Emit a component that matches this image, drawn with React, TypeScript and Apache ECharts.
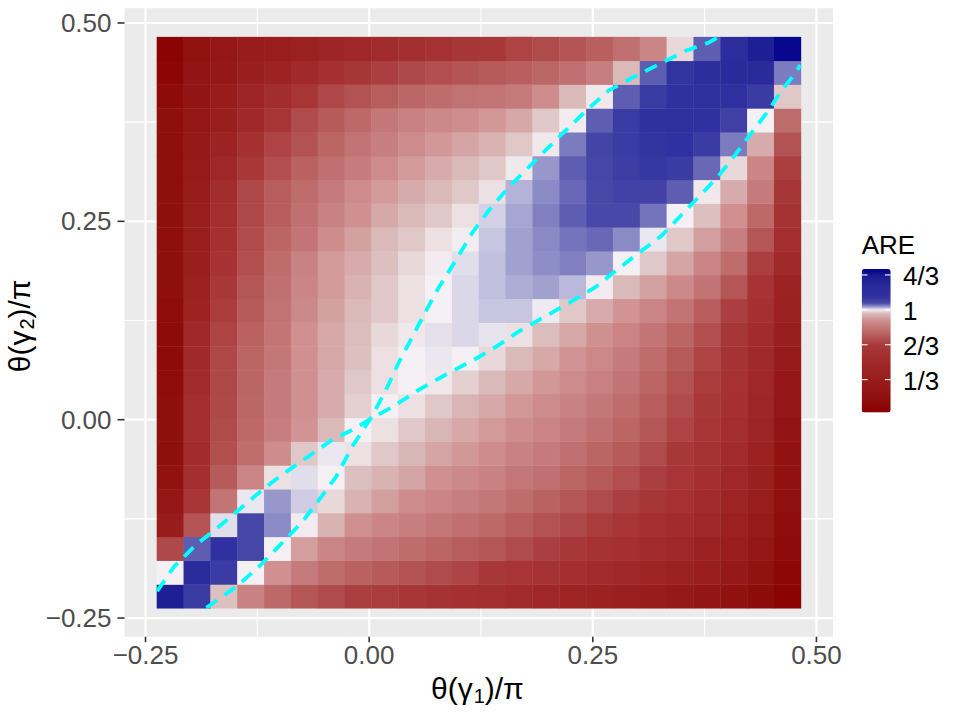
import React, { useEffect, useRef } from 'react';
import * as echarts from 'echarts';

// cell centres of theta(gamma)/pi on both axes
const thetaX = [-0.2225, -0.1925, -0.1625, -0.1325, -0.1025, -0.0725, -0.0425, -0.0125, 0.0175, 0.0475, 0.0775, 0.1075,
  0.1375, 0.1675, 0.1975, 0.2275, 0.2575, 0.2875, 0.3175, 0.3475, 0.3775, 0.4075, 0.4375, 0.4675];
const thetaY = [-0.2225, -0.1925, -0.1625, -0.1325, -0.1025, -0.0725, -0.0425, -0.0125, 0.0175, 0.0475, 0.0775, 0.1075,
  0.1375, 0.1675, 0.1975, 0.2275, 0.2575, 0.2875, 0.3175, 0.3475, 0.3775, 0.4075, 0.4375, 0.4675];

// ARE values, one row per thetaY (bottom to top), columns follow thetaX
const r00 = [1.3, 1.1, 0.97, 0.86, 0.79, 0.74, 0.71, 0.68, 0.67, 0.64, 0.61, 0.58, 0.55, 0.52, 0.48, 0.44, 0.4, 0.36, 0.32, 0.28, 0.23, 0.18, 0.12, 0.05];
const r01 = [1.0, 1.2, 1.1, 1.0, 0.9, 0.84, 0.8, 0.77, 0.75, 0.73, 0.71, 0.69, 0.66, 0.63, 0.6, 0.56, 0.52, 0.48, 0.44, 0.39, 0.34, 0.28, 0.2, 0.09];
const r02 = [0.705, 1.055, 1.13, 1.07, 1.0, 0.92, 0.87, 0.84, 0.82, 0.8, 0.78, 0.76, 0.74, 0.71, 0.68, 0.65, 0.61, 0.57, 0.52, 0.47, 0.41, 0.34, 0.25, 0.12];
const r03 = [0.32, 0.735, 1.006, 1.07, 1.035, 0.997, 0.95, 0.9, 0.87, 0.85, 0.83, 0.81, 0.79, 0.76, 0.73, 0.7, 0.67, 0.63, 0.58, 0.53, 0.47, 0.39, 0.29, 0.14];
const r04 = [0.24, 0.63, 0.825, 1.003, 1.03, 1.012, 0.985, 0.95, 0.92, 0.89, 0.87, 0.85, 0.83, 0.8, 0.77, 0.74, 0.71, 0.68, 0.64, 0.59, 0.52, 0.44, 0.33, 0.16];
const r05 = [0.2, 0.55, 0.75, 0.87, 0.99, 1.006, 1.0, 0.97, 0.95, 0.93, 0.9, 0.88, 0.86, 0.83, 0.81, 0.78, 0.75, 0.72, 0.68, 0.63, 0.56, 0.48, 0.37, 0.18];
const r06 = [0.15, 0.53, 0.72, 0.805, 0.89, 0.975, 1.003, 0.99, 0.975, 0.955, 0.93, 0.91, 0.89, 0.86, 0.84, 0.81, 0.78, 0.75, 0.71, 0.66, 0.6, 0.52, 0.4, 0.2];
const r07 = [0.15, 0.55, 0.71, 0.79, 0.85, 0.905, 0.96, 1.0, 0.99, 0.975, 0.955, 0.935, 0.915, 0.89, 0.865, 0.84, 0.81, 0.78, 0.74, 0.69, 0.63, 0.55, 0.43, 0.22];
const r08 = [0.15, 0.55, 0.705, 0.785, 0.84, 0.9, 0.94, 0.98, 1.0, 0.99, 0.975, 0.955, 0.935, 0.91, 0.885, 0.86, 0.83, 0.8, 0.76, 0.71, 0.65, 0.57, 0.46, 0.24];
const r09 = [0.135, 0.52, 0.7, 0.78, 0.84, 0.9, 0.94, 0.975, 0.99, 1.0, 0.995, 0.98, 0.96, 0.935, 0.91, 0.885, 0.855, 0.82, 0.78, 0.73, 0.67, 0.59, 0.48, 0.26];
const r10 = [0.12, 0.5, 0.7, 0.78, 0.83, 0.9, 0.935, 0.97, 0.99, 1.0, 1.003, 1.0, 0.985, 0.96, 0.935, 0.905, 0.875, 0.84, 0.8, 0.75, 0.69, 0.61, 0.5, 0.3];
const r11 = [0.12, 0.47, 0.69, 0.77, 0.825, 0.9, 0.935, 0.965, 0.985, 0.995, 1.005, 1.008, 1.004, 0.99, 0.965, 0.935, 0.9, 0.865, 0.825, 0.78, 0.72, 0.64, 0.53, 0.35];
const r12 = [0.135, 0.42, 0.67, 0.75, 0.815, 0.88, 0.925, 0.96, 0.975, 0.99, 1.0, 1.008, 1.014, 1.014, 1.002, 0.975, 0.94, 0.905, 0.865, 0.82, 0.76, 0.68, 0.57, 0.38];
const r13 = [0.15, 0.38, 0.65, 0.74, 0.81, 0.87, 0.915, 0.95, 0.975, 0.99, 1.0, 1.008, 1.016, 1.022, 1.026, 1.018, 0.997, 0.96, 0.925, 0.88, 0.82, 0.74, 0.62, 0.42];
const r14 = [0.15, 0.35, 0.61, 0.72, 0.8, 0.86, 0.915, 0.94, 0.97, 0.985, 0.997, 1.006, 1.016, 1.026, 1.034, 1.04, 1.03, 1.0, 0.975, 0.93, 0.87, 0.8, 0.68, 0.5];
const r15 = [0.15, 0.34, 0.58, 0.71, 0.78, 0.825, 0.89, 0.925, 0.96, 0.975, 0.99, 0.998, 1.014, 1.026, 1.036, 1.045, 1.05, 1.035, 1.003, 0.975, 0.92, 0.85, 0.74, 0.55];
const r16 = [0.15, 0.33, 0.55, 0.7, 0.76, 0.81, 0.86, 0.9, 0.935, 0.96, 0.975, 0.99, 1.01, 1.024, 1.04, 1.055, 1.065, 1.065, 1.045, 1.0, 0.97, 0.9, 0.79, 0.6];
const r17 = [0.15, 0.32, 0.54, 0.7, 0.76, 0.8, 0.84, 0.885, 0.915, 0.94, 0.96, 0.975, 0.99, 1.02, 1.035, 1.05, 1.065, 1.08, 1.08, 1.055, 0.995, 0.94, 0.84, 0.64];
const r18 = [0.15, 0.3, 0.47, 0.65, 0.72, 0.77, 0.81, 0.845, 0.885, 0.915, 0.94, 0.96, 0.975, 0.995, 1.03, 1.055, 1.07, 1.095, 1.11, 1.1, 1.05, 0.985, 0.87, 0.68];
const r19 = [0.15, 0.28, 0.42, 0.57, 0.69, 0.73, 0.78, 0.82, 0.85, 0.885, 0.91, 0.93, 0.95, 0.975, 0.995, 1.042, 1.075, 1.1, 1.12, 1.13, 1.1, 1.042, 0.94, 0.73];
const r20 = [0.15, 0.25, 0.35, 0.49, 0.63, 0.71, 0.75, 0.79, 0.83, 0.855, 0.88, 0.895, 0.91, 0.935, 0.975, 0.997, 1.055, 1.1, 1.13, 1.14, 1.14, 1.09, 1.0, 0.8];
const r21 = [0.12, 0.225, 0.32, 0.43, 0.54, 0.63, 0.7, 0.73, 0.76, 0.785, 0.8, 0.815, 0.825, 0.84, 0.89, 0.96, 0.995, 1.055, 1.1, 1.13, 1.14, 1.15, 1.1, 0.975];
const r22 = [0.07, 0.22, 0.27, 0.35, 0.42, 0.5, 0.58, 0.64, 0.68, 0.7, 0.72, 0.735, 0.75, 0.765, 0.785, 0.81, 0.85, 0.96, 1.055, 1.12, 1.17, 1.22, 1.22, 1.042];
const r23 = [0.045, 0.2, 0.24, 0.32, 0.34, 0.38, 0.43, 0.47, 0.52, 0.55, 0.6, 0.64, 0.66, 0.69, 0.71, 0.735, 0.765, 0.81, 0.87, 0.985, 1.055, 1.19, 1.3, 1.37];
const areRows = [r00, r01, r02, r03, r04, r05, r06, r07, r08, r09, r10, r11, r12, r13, r14, r15, r16, r17, r18, r19, r20, r21, r22, r23];

// ARE = 1 contour, two branches crossing at the origin
const contourA = [[-0.237, -0.216], [-0.218, -0.185], [-0.193, -0.157], [-0.167, -0.134], [-0.145, -0.113], [-0.121, -0.09],
  [-0.097, -0.069], [-0.07, -0.048], [-0.041, -0.025], [-0.019, -0.013], [0, 0], [0.026, 0.016], [0.056, 0.038], [0.086, 0.057],
  [0.121, 0.078], [0.142, 0.092], [0.167, 0.111], [0.195, 0.129], [0.223, 0.147], [0.253, 0.167], [0.276, 0.188], [0.301, 0.21],
  [0.327, 0.232], [0.349, 0.258], [0.372, 0.285], [0.391, 0.308], [0.41, 0.335], [0.427, 0.361], [0.446, 0.389], [0.461, 0.415],
  [0.474, 0.433], [0.482, 0.447]];
const contourB = [[-0.182, -0.237], [-0.148, -0.21], [-0.123, -0.185], [-0.097, -0.155], [-0.075, -0.129], [-0.056, -0.101],
  [-0.037, -0.072], [-0.019, -0.034], [0.003, 0.004], [0.019, 0.038], [0.033, 0.072], [0.048, 0.104], [0.064, 0.138],
  [0.078, 0.167], [0.097, 0.201], [0.115, 0.235], [0.134, 0.264], [0.156, 0.293], [0.186, 0.327], [0.212, 0.356],
  [0.242, 0.389], [0.268, 0.415], [0.294, 0.431], [0.324, 0.448], [0.354, 0.465], [0.379, 0.475], [0.39, 0.482]];

const axisBreaks = [-0.25, 0, 0.25, 0.5];
const axisLabels = ['\u22120.25', '0.00', '0.25', '0.50'];
const minorBreaks = [-0.125, 0.125, 0.375];
const legendBreaks = [1 / 3, 2 / 3, 1, 4 / 3];
const legendLabels = ['1/3', '2/3', '1', '4/3'];

const AXIS_MIN = -0.2735;
const AXIS_MAX = 0.5185;
const LEG_MIN = 0.02;
const LEG_MAX = 1.39;
const LEG_LEFT = 861.7;
const LEG_TOP = 269;
const LEG_W = 29;
const LEG_H = 143.4;
const FONT = '"Liberation Sans", Arial, Helvetica, sans-serif';

// colour ramp anchors (value -> colour), as seen on the legend bar
const rampAnchors: [number, string][] = [
  [0.02, '#8b0000'], [0.17, '#901010'], [0.32, '#981c1c'], [0.49, '#a02828'], [0.66, '#a83838'],
  [0.81, '#c07070'], [0.9, '#d09090'], [0.97, '#dcc0c0'], [1.0, '#f4f0f4'], [1.026, '#a0a0d0'],
  [1.064, '#4848a8'], [1.13, '#3030a0'], [1.22, '#2a2a9a'], [1.32, '#1c1c94'], [1.39, '#00008b'],
];

function hexRgb(h: string) {
  const n = parseInt(h.slice(1), 16);
  return [(n >> 16) & 255, (n >> 8) & 255, n & 255];
}

function buildRamp(n: number) {
  const out: string[] = [];
  for (let k = 0; k < n; k++) {
    const v = LEG_MIN + ((LEG_MAX - LEG_MIN) * k) / (n - 1);
    let s = 0;
    while (s < rampAnchors.length - 2 && v > rampAnchors[s + 1][0]) s++;
    const [v0, c0] = rampAnchors[s];
    const [v1, c1] = rampAnchors[s + 1];
    const t = Math.max(0, Math.min(1, (v - v0) / (v1 - v0)));
    const a = hexRgb(c0);
    const b = hexRgb(c1);
    const c = a.map((x, i) => Math.round(x + (b[i] - x) * t));
    out.push(`rgb(${c[0]},${c[1]},${c[2]})`);
  }
  return out;
}

function titleGroup(x: number, y: number, rotation: number, sub: string) {
  return {
    type: 'group',
    x,
    y,
    rotation,
    children: [
      { type: 'text', x: -6, y: 0, style: { text: '\u03b8(\u03b3', fill: '#000', fontSize: 30, fontFamily: FONT, align: 'right', verticalAlign: 'middle', textAlign: 'right', textVerticalAlign: 'middle' } },
      { type: 'text', x: -5, y: 8, style: { text: sub, fill: '#000', fontSize: 20, fontFamily: FONT, align: 'left', verticalAlign: 'middle', textAlign: 'left', textVerticalAlign: 'middle' } },
      { type: 'text', x: 6, y: 0, style: { text: ')/\u03c0', fill: '#000', fontSize: 30, fontFamily: FONT, align: 'left', verticalAlign: 'middle', textAlign: 'left', textVerticalAlign: 'middle' } },
    ],
  };
}

export default function App() {
  const ref = useRef<HTMLDivElement>(null);

  useEffect(() => {
    if (!ref.current) return;
    const chart = echarts.init(ref.current, undefined, { renderer: 'svg' });

    const cells: number[][] = [];
    areRows.forEach((row, j) => {
      row.forEach((v, i) => cells.push([thetaX[i], thetaY[j], v]));
    });
    const hw = (thetaX[1] - thetaX[0]) / 2;
    const hh = (thetaY[1] - thetaY[0]) / 2;

    const lineStyle = { color: '#00ffff', width: 3.8, type: [13, 9], cap: 'butt' };

    chart.setOption({
      animation: false,
      grid: {
        left: 124.5, top: 8.3, width: 708.5, height: 628.4,
        show: true, backgroundColor: '#ebebeb', borderWidth: 0, containLabel: false, outerBoundsMode: 'none',
      },
      xAxis: { type: 'value', min: AXIS_MIN, max: AXIS_MAX, show: false },
      yAxis: { type: 'value', min: AXIS_MIN, max: AXIS_MAX, show: false },
      visualMap: {
        type: 'continuous',
        min: LEG_MIN,
        max: LEG_MAX,
        dimension: 2,
        seriesIndex: 0,
        calculable: false,
        hoverLink: false,
        orient: 'vertical',
        left: LEG_LEFT,
        top: LEG_TOP,
        padding: 0,
        itemWidth: LEG_W,
        itemHeight: LEG_H,
        inRange: { color: buildRamp(275) },
        z: 5,
      },
      series: [
        {
          type: 'custom',
          z: 3,
          silent: true,
          dimensions: ['x', 'y', 'are'],
          encode: { x: 0, y: 1 },
          data: cells,
          renderItem: (params: any, api: any) => {
            const x = api.value(0);
            const y = api.value(1);
            const a = api.coord([x - hw, y + hh]);
            const b = api.coord([x + hw, y - hh]);
            return {
              type: 'rect',
              shape: { x: a[0], y: a[1], width: b[0] - a[0] + 0.4, height: b[1] - a[1] + 0.4 },
              style: { fill: api.visual('color'), stroke: null },
            };
          },
        },
        { type: 'line', z: 4, silent: true, data: contourA, showSymbol: false, symbol: 'none', lineStyle },
        { type: 'line', z: 4, silent: true, data: contourB, showSymbol: false, symbol: 'none', lineStyle },
      ],
    });

    const px = (v: number) => chart.convertToPixel({ xAxisIndex: 0 }, v) as number;
    const py = (v: number) => chart.convertToPixel({ yAxisIndex: 0 }, v) as number;
    const left = px(AXIS_MIN);
    const right = px(AXIS_MAX);
    const top = py(AXIS_MAX);
    const bottom = py(AXIS_MIN);

    const g: any[] = [];
    const grid = (v: number, w: number) => {
      g.push({ type: 'line', z: 1, silent: true, shape: { x1: px(v), y1: top, x2: px(v), y2: bottom }, style: { stroke: '#ffffff', lineWidth: w } });
      g.push({ type: 'line', z: 1, silent: true, shape: { x1: left, y1: py(v), x2: right, y2: py(v) }, style: { stroke: '#ffffff', lineWidth: w } });
    };
    minorBreaks.forEach((v) => grid(v, 1.1));
    axisBreaks.forEach((v) => grid(v, 2.2));

    axisBreaks.forEach((v, k) => {
      const x = px(v);
      const y = py(v);
      g.push({ type: 'line', z: 1, silent: true, shape: { x1: x, y1: bottom, x2: x, y2: bottom + 5.5 }, style: { stroke: '#333333', lineWidth: 1.6 } });
      g.push({ type: 'line', z: 1, silent: true, shape: { x1: left - 7, y1: y, x2: left, y2: y }, style: { stroke: '#333333', lineWidth: 1.6 } });
      g.push({ type: 'text', z: 1, silent: true, x, y: bottom + 18, style: { text: axisLabels[k], fill: '#4d4d4d', fontSize: 26, fontFamily: FONT, align: 'center', verticalAlign: 'middle', textAlign: 'center', textVerticalAlign: 'middle' } });
      g.push({ type: 'text', z: 1, silent: true, x: left - 13, y, style: { text: axisLabels[k], fill: '#4d4d4d', fontSize: 26, fontFamily: FONT, align: 'right', verticalAlign: 'middle', textAlign: 'right', textVerticalAlign: 'middle' } });
    });

    // legend
    const legY = (v: number) => LEG_TOP + ((LEG_MAX - v) / (LEG_MAX - LEG_MIN)) * LEG_H;
    g.push({ type: 'text', z: 10, silent: true, x: LEG_LEFT, y: 245, style: { text: 'ARE', fill: '#000', fontSize: 26, fontFamily: FONT, align: 'left', verticalAlign: 'middle', textAlign: 'left', textVerticalAlign: 'middle' } });
    legendBreaks.forEach((v, k) => {
      const y = legY(v);
      g.push({ type: 'line', z: 10, silent: true, shape: { x1: LEG_LEFT, y1: y, x2: LEG_LEFT + 5.8, y2: y }, style: { stroke: '#ffffff', lineWidth: 1.1 } });
      g.push({ type: 'line', z: 10, silent: true, shape: { x1: LEG_LEFT + LEG_W - 5.8, y1: y, x2: LEG_LEFT + LEG_W, y2: y }, style: { stroke: '#ffffff', lineWidth: 1.1 } });
      g.push({ type: 'text', z: 10, silent: true, x: 903, y: y + 1.5, style: { text: legendLabels[k], fill: '#000', fontSize: 26, fontFamily: FONT, align: 'left', verticalAlign: 'middle', textAlign: 'left', textVerticalAlign: 'middle' } });
    });

    // axis titles
    g.push(titleGroup((left + right) / 2, 688, 0, '1'));
    g.push(titleGroup(19, (top + bottom) / 2 + 2, Math.PI / 2, '2'));

    chart.setOption({ graphic: g });

    return () => chart.dispose();
  }, []);

  return (
    <div
      ref={ref}
      style={{ position: 'fixed', left: 0, top: 0, width: 959, height: 719, background: '#ffffff' }}
    />
  );
}
